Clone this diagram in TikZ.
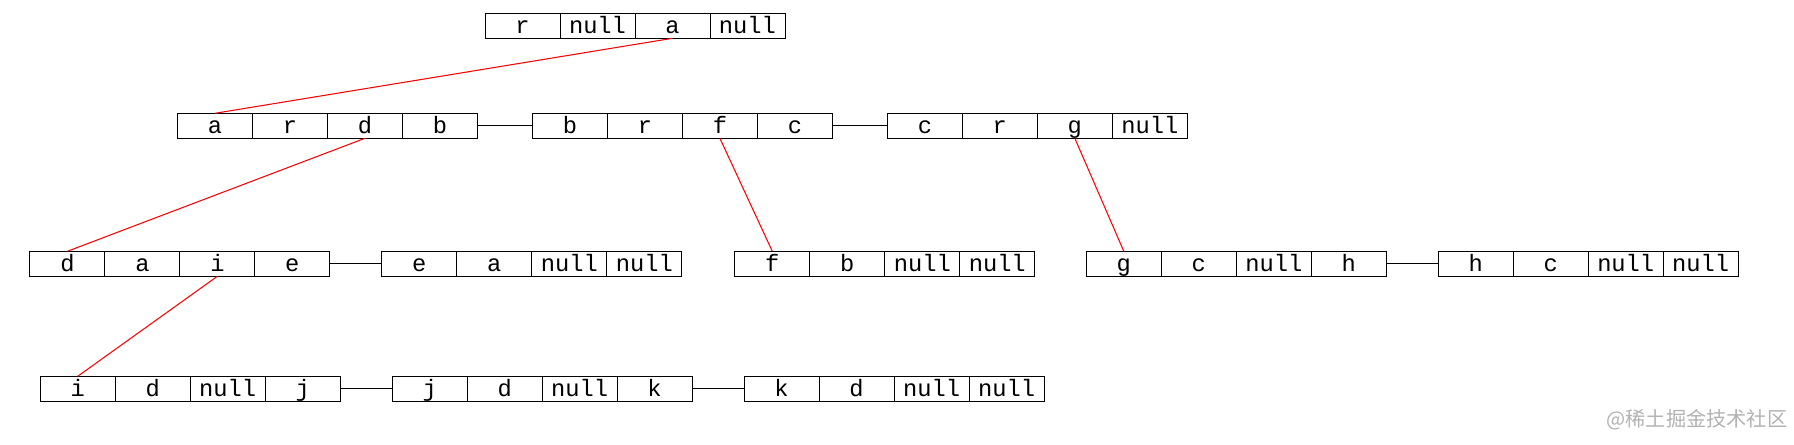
\documentclass[tikz,border=0pt]{standalone}
\usepackage{fontspec}
\usepackage{tikz}
\usetikzlibrary{positioning}
\newfontfamily\cellfont{Liberation Mono}
\newfontfamily\cjk{Noto Sans CJK SC}
\tikzset{cell/.style = {draw, line width = 0.5pt, minimum width = 1.5cm, minimum height = 0.5cm,
                        inner sep = 0, outer sep = 0, text height = 0.3cm, text depth = 0cm,
                        font = \cellfont\fontsize{13.5}{16}\selectfont}}
\tikzset{link/.style = {line width = 0.7pt}}
\tikzset{child/.style = {red, line width = 0.6pt}}

\begin{document}
\begin{tikzpicture}[x = 0.02cm, y = -0.02cm, node distance = 0pt]
      \useasboundingbox (0, 0) rectangle (1794, 445);

      % top row
      \node [cell] (T1) at (522.5, 25.8) {r};
      \node [cell, right = of T1] (T2) {null};
      \node [cell, right = of T2] (T3) {a};
      \node [cell, right = of T3] (T4) {null};

      % second row
      \node [cell] (A1) at (215, 125.8) {a};
      \node [cell, right = of A1] (A2) {r};
      \node [cell, right = of A2] (A3) {d};
      \node [cell, right = of A3] (A4) {b};
      \node [cell, right = 1.1cm of A4] (B1) {b};
      \node [cell, right = of B1] (B2) {r};
      \node [cell, right = of B2] (B3) {f};
      \node [cell, right = of B3] (B4) {c};
      \node [cell, right = 1.1cm of B4] (C1) {c};
      \node [cell, right = of C1] (C2) {r};
      \node [cell, right = of C2] (C3) {g};
      \node [cell, right = of C3] (C4) {null};

      % third row
      \node [cell] (D1) at (67.4, 263.8) {d};
      \node [cell, right = of D1] (D2) {a};
      \node [cell, right = of D2] (D3) {i};
      \node [cell, right = of D3] (D4) {e};
      \node [cell, right = 1.04cm of D4] (E1) {e};
      \node [cell, right = of E1] (E2) {a};
      \node [cell, right = of E2] (E3) {null};
      \node [cell, right = of E3] (E4) {null};
      \node [cell] (F1) at (772.3, 263.8) {f};
      \node [cell, right = of F1] (F2) {b};
      \node [cell, right = of F2] (F3) {null};
      \node [cell, right = of F3] (F4) {null};
      \node [cell] (G1) at (1123.8, 263.8) {g};
      \node [cell, right = of G1] (G2) {c};
      \node [cell, right = of G2] (G3) {null};
      \node [cell, right = of G3] (G4) {h};
      \node [cell, right = 1.04cm of G4] (H1) {h};
      \node [cell, right = of H1] (H2) {c};
      \node [cell, right = of H2] (H3) {null};
      \node [cell, right = of H3] (H4) {null};

      % fourth row
      \node [cell] (I1) at (77.7, 388.8) {i};
      \node [cell, right = of I1] (I2) {d};
      \node [cell, right = of I2] (I3) {null};
      \node [cell, right = of I3] (I4) {j};
      \node [cell, right = 1.04cm of I4] (J1) {j};
      \node [cell, right = of J1] (J2) {d};
      \node [cell, right = of J2] (J3) {null};
      \node [cell, right = of J3] (J4) {k};
      \node [cell, right = 1.04cm of J4] (K1) {k};
      \node [cell, right = of K1] (K2) {d};
      \node [cell, right = of K2] (K3) {null};
      \node [cell, right = of K3] (K4) {null};

      \draw [link] (A4) -- (B1);
      \draw [link] (B4) -- (C1);
      \draw [link] (D4) -- (E1);
      \draw [link] (G4) -- (H1);
      \draw [link] (I4) -- (J1);
      \draw [link] (J4) -- (K1);

      \draw [child] (T3.south) -- (A1.north);
      \draw [child] (A3.south) -- (D1.north);
      \draw [child] (B3.south) -- (F1.north);
      \draw [child] (C3.south) -- (G1.north);
      \draw [child] (D3.south) -- (I1.north);

      \node [gray!60, inner sep = 0, font = \cjk\fontsize{11.5}{13}\selectfont] (mark) at (1697, 420) {@稀土掘金技术社区};
    \end{tikzpicture}
\end{document}
